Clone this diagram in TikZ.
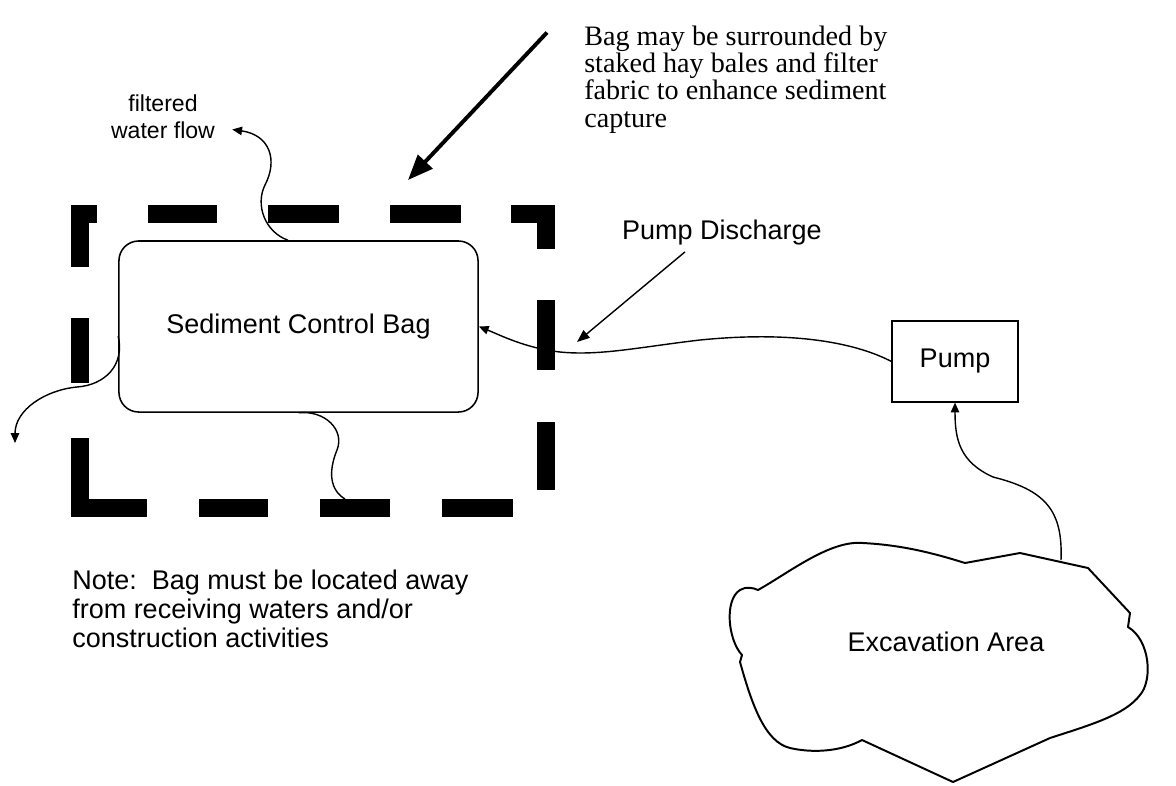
\documentclass[tikz,border=0pt]{standalone}
\usepackage{fontspec}
\setmainfont{Liberation Sans}
\newfontfamily\hayfont{Liberation Serif}
\usetikzlibrary{arrows.meta}

\begin{document}
\begin{tikzpicture}[x=0.025cm, y=-0.025cm]
\tikzstyle{every node} = [font=\fontsize{19.2pt}{20.6pt}\selectfont, inner sep=0pt]
\tikzstyle{bale} = [line width=12.8pt, line cap=butt, line join=miter]
\tikzstyle{flow} = [line width=1pt, -{Triangle[length=7pt, width=6pt]}]
\useasboundingbox (0,0) rectangle (1176,785);

% bag, pump and excavation
\node[draw, line width=1.1pt, rounded corners=14pt, minimum width=8.975cm, minimum height=4.275cm] (bag) at (298.5,326.5) {Sediment Control Bag};
\node[draw, line width=0.8pt, minimum width=3.15cm, minimum height=2.025cm] (pump) at (955,361.5) {Pump};
\draw[line width=1.4pt, line join=round] (965,563) -- (1020,553) -- (1088,568) -- (1130,613) -- (1128,627)
  .. controls (1150,640) and (1153,680) .. (1140,695) .. controls (1125,715) and (1090,725) .. (1050,738)
  -- (953,782) -- (862,740) .. controls (840,752) and (812,753) .. (790,748)
  .. controls (765,742) and (752,705) .. (740,662) -- (742,655) .. controls (728,640) and (724,600) .. (740,590)
  .. controls (746,586) and (754,588) .. (758,590) .. controls (790,572) and (830,540) .. (863,543)
  .. controls (900,545) and (930,552) .. (965,563) -- cycle;
\node (exc) at (946,642) {Excavation Area};
\coordinate (exctop) at (1061,560);

% hay bales round the bag
\draw[bale] (79.5,267) |- (97,214);
\draw[bale] (511,214) -| (546,249);
\draw[bale] (79.5,438) |- (147,507.5);
\foreach \from/\to in {{148,214}/{217,214}, {268,214}/{339,214}, {390,214}/{461,214},
  {546,300}/{546,370}, {546,422}/{546,490}, {199,507.5}/{268,507.5}, {320,507.5}/{390,507.5},
  {442,507.5}/{513,507.5}, {79.5,318}/{79.5,383}}
\draw[bale] (\from) -- (\to);

% labels
\node[align=center, font=\fontsize{16.4pt}{19.2pt}\selectfont] (flowlbl) at (163,116.5) {filtered\\water flow};
\node (disch) at (722,233) {Pump Discharge};
\node[anchor=west, align=left, font=\hayfont\fontsize{20pt}{19.4pt}\selectfont] (hay) at (584,79.5) {Bag may be surrounded by\\staked hay bales and filter\\fabric to enhance sediment\\capture};
\node[anchor=west, align=left] (note) at (72,609) {Note:\ \ Bag must be located away\\from receiving waters and/or\\construction activities};
\coordinate (haytip) at (408,180);
\coordinate (dischtip) at (577,342);
\coordinate (leftout) at (15,443);
\coordinate (botout) at (345,499);

% flows
\draw[flow] (pump.west) .. controls (860,345) and (800,330) .. (700,340)
  .. controls (640,347) and (600,356) .. (560,352) .. controls (525,348) and (500,335) .. (bag.east);
\draw[flow] (exctop) .. controls (1063,510) and (1045,490) .. (993,477)
  .. controls (960,462) and (955,440) .. (pump.south);
\draw[flow] (bag.97) .. controls (265,232) and (255,205) .. (265,185)
  .. controls (278,160) and (270,135) .. ([shift={(17,13)}]flowlbl.east);
\draw[flow] (bag.183) .. controls (125,365) and (105,385) .. (77,387)
  .. controls (45,390) and (15,410) .. (leftout);
\draw[line width=1pt] (bag.south) .. controls (325,410) and (345,430) .. (337,450)
  .. controls (328,472) and (330,490) .. (botout);
\draw[line width=1pt, -{Triangle[length=9pt, width=7pt]}] ([shift={(-37,6)}]disch.south) -- (dischtip);
\draw[line width=2.8pt, -{Triangle[length=18pt, width=14pt]}] ([shift={(-37,-47)}]hay.west) -- (haytip);
\end{tikzpicture}
\end{document}
